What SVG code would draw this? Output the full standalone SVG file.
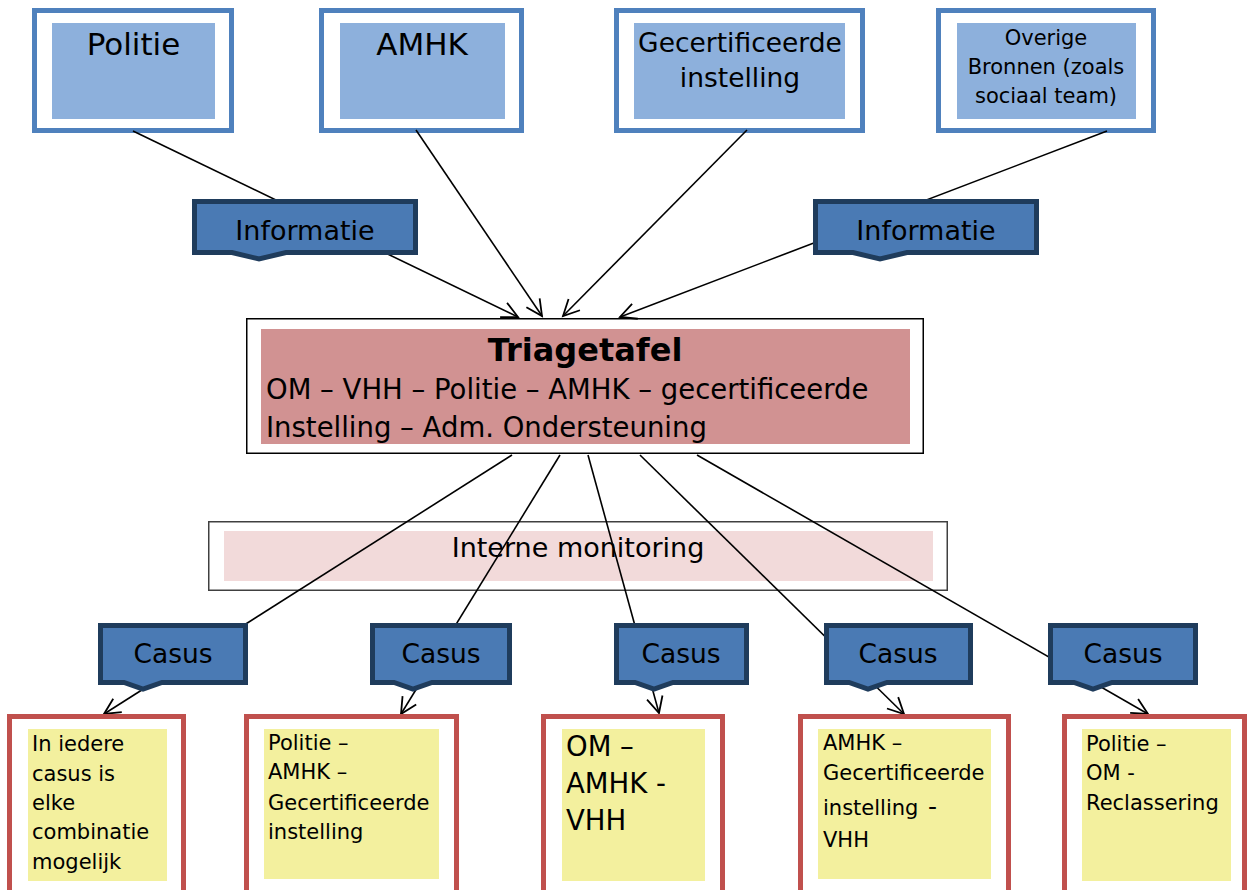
<svg xmlns="http://www.w3.org/2000/svg" width="1247" height="890" viewBox="0 0 1247 890">
<style>
text{font-family:"DejaVu Sans","Verdana",sans-serif;fill:#000}
.src{fill:#fff;stroke:#4f81bd;stroke-width:5}
.srcin{fill:#8db0dc}
.call{fill:#4a7ab4;stroke:#1f3c5c;stroke-width:5;stroke-linejoin:miter}
.dst{fill:#fff;stroke:#c0504d;stroke-width:5}
.dstin{fill:#f3f09e}
.conn{stroke:#000;stroke-width:1.6;fill:none;marker-end:url(#arr)}
.t26{font-size:26.5px}
.t27{font-size:27px}
.t21{font-size:21px}
</style>
<defs>
<marker id="arr" markerUnits="userSpaceOnUse" viewBox="-20 -12 24 24" refX="0" refY="0" markerWidth="24" markerHeight="24" orient="auto">
<path d="M-16,-8 L0,0 L-16,8" fill="none" stroke="#000" stroke-width="1.8"/>
</marker>
</defs>
<rect width="1247" height="890" fill="#fff"/>

<g id="monitoring">
<rect x="208.75" y="521.75" width="738.5" height="68.5" fill="#fff" stroke="#404040" stroke-width="1.5"/>
<rect x="224" y="531" width="709" height="50" fill="#f2dada"/>
<text x="578" y="557" text-anchor="middle" class="t27">Interne monitoring</text>
</g>

<g id="src-politie">
<rect class="src" x="34.5" y="10.5" width="197" height="120"/>
<rect class="srcin" x="52" y="23" width="163" height="96"/>
<text x="133.5" y="55" text-anchor="middle" style="font-size:31px">Politie</text>
</g>
<g id="src-amhk">
<rect class="src" x="321.5" y="10.5" width="200" height="120"/>
<rect class="srcin" x="340" y="23" width="165" height="96"/>
<text x="422" y="55" text-anchor="middle" style="font-size:31px">AMHK</text>
</g>
<g id="src-gecert">
<rect class="src" x="616.5" y="10.5" width="246" height="120"/>
<rect class="srcin" x="634" y="23" width="211" height="96"/>
<text x="740" y="52" text-anchor="middle" class="t26">Gecertificeerde</text>
<text x="740" y="87" text-anchor="middle" class="t26">instelling</text>
</g>
<g id="src-overige">
<rect class="src" x="938.5" y="10.5" width="215" height="120"/>
<rect class="srcin" x="957" y="23" width="179" height="96"/>
<text x="1046" y="45" text-anchor="middle" class="t21">Overige</text>
<text x="1046" y="74" text-anchor="middle" class="t21">Bronnen (zoals</text>
<text x="1046" y="103" text-anchor="middle" class="t21">sociaal team)</text>
</g>

<g id="triagetafel">
<rect x="246.75" y="318.75" width="676.5" height="134.5" fill="#fff" stroke="#000" stroke-width="1.5"/>
<rect x="261" y="329" width="649" height="115" fill="#d19292"/>
<text x="585" y="361" text-anchor="middle" style="font-size:32px;font-weight:bold">Triagetafel</text>
<text x="266" y="399" style="font-size:27.5px">OM – VHH – Politie – AMHK – gecertificeerde</text>
<text x="266" y="437" style="font-size:27.5px">Instelling – Adm. Ondersteuning</text>
</g>

<g id="connectors">
<line class="conn" x1="133" y1="131" x2="518" y2="317"/>
<line class="conn" x1="416" y1="130" x2="542" y2="316"/>
<line class="conn" x1="747" y1="130" x2="563" y2="316"/>
<line class="conn" x1="1107" y1="131" x2="620" y2="317"/>
<line class="conn" x1="512" y1="455" x2="104" y2="714"/>
<line class="conn" x1="560" y1="455" x2="401" y2="714"/>
<line class="conn" x1="588" y1="455" x2="659" y2="713"/>
<line class="conn" x1="640" y1="455" x2="904" y2="714"/>
<line class="conn" x1="697" y1="455" x2="1148" y2="714"/>
</g>

<g id="info-left">
<path class="call" d="M194.5,201.5 H415.5 V252.5 H286 L259,259 L232,252.5 H194.5 Z"/>
<text x="305" y="240" text-anchor="middle" class="t27">Informatie</text>
</g>
<g id="info-right">
<path class="call" d="M815.5,201.5 H1036.5 V252.5 H907 L880,259 L853,252.5 H815.5 Z"/>
<text x="926" y="240" text-anchor="middle" class="t27">Informatie</text>
</g>

<g id="casus-1">
<path class="call" d="M100.5,625.5 H245.5 V682.5 H162 L143,689 L124,682.5 H100.5 Z"/>
<text x="173" y="663" text-anchor="middle" class="t26">Casus</text>
</g>
<g id="casus-2">
<path class="call" d="M372.5,625.5 H509.5 V682.5 H432 L413,689 L394,682.5 H372.5 Z"/>
<text x="441" y="663" text-anchor="middle" class="t26">Casus</text>
</g>
<g id="casus-3">
<path class="call" d="M616.5,625.5 H746.5 V682.5 H673 L654,689 L635,682.5 H616.5 Z"/>
<text x="681" y="663" text-anchor="middle" class="t26">Casus</text>
</g>
<g id="casus-4">
<path class="call" d="M826.5,625.5 H970.5 V682.5 H887 L868,689 L849,682.5 H826.5 Z"/>
<text x="898" y="663" text-anchor="middle" class="t26">Casus</text>
</g>
<g id="casus-5">
<path class="call" d="M1050.5,625.5 H1195.5 V682.5 H1112 L1093,689 L1074,682.5 H1050.5 Z"/>
<text x="1123" y="663" text-anchor="middle" class="t26">Casus</text>
</g>

<g id="result-1">
<rect class="dst" x="9.5" y="716.5" width="174" height="200"/>
<rect class="dstin" x="28" y="729" width="139" height="152"/>
<text x="32" y="751" class="t21">In iedere</text>
<text x="32" y="781" class="t21">casus is</text>
<text x="32" y="810" class="t21">elke</text>
<text x="32" y="839" class="t21">combinatie</text>
<text x="32" y="869" class="t21">mogelijk</text>
</g>
<g id="result-2">
<rect class="dst" x="246.5" y="716.5" width="210" height="200"/>
<rect class="dstin" x="264" y="729" width="175" height="150"/>
<text x="268" y="750" class="t21">Politie –</text>
<text x="268" y="779" class="t21">AMHK –</text>
<text x="268" y="810" class="t21">Gecertificeerde</text>
<text x="268" y="839" class="t21">instelling</text>
</g>
<g id="result-3">
<rect class="dst" x="543.5" y="716.5" width="179" height="200"/>
<rect class="dstin" x="562" y="729" width="143" height="152"/>
<text x="566" y="756" style="font-size:27.5px">OM –</text>
<text x="566" y="793" style="font-size:27.5px">AMHK -</text>
<text x="566" y="830" style="font-size:27.5px">VHH</text>
</g>
<g id="result-4">
<rect class="dst" x="800.5" y="716.5" width="208" height="200"/>
<rect class="dstin" x="818" y="729" width="173" height="150"/>
<text x="823" y="750" class="t21">AMHK –</text>
<text x="823" y="780" class="t21">Gecertificeerde</text>
<text x="823" y="815" class="t21">instelling <tspan x="928" style="font-size:25px">-</tspan></text>
<text x="823" y="847" class="t21">VHH</text>
</g>
<g id="result-5">
<rect class="dst" x="1064.5" y="716.5" width="180" height="200"/>
<rect class="dstin" x="1082" y="729" width="149" height="152"/>
<text x="1086" y="751" class="t21">Politie –</text>
<text x="1086" y="780" class="t21">OM -</text>
<text x="1086" y="810" class="t21">Reclassering</text>
</g>
</svg>
